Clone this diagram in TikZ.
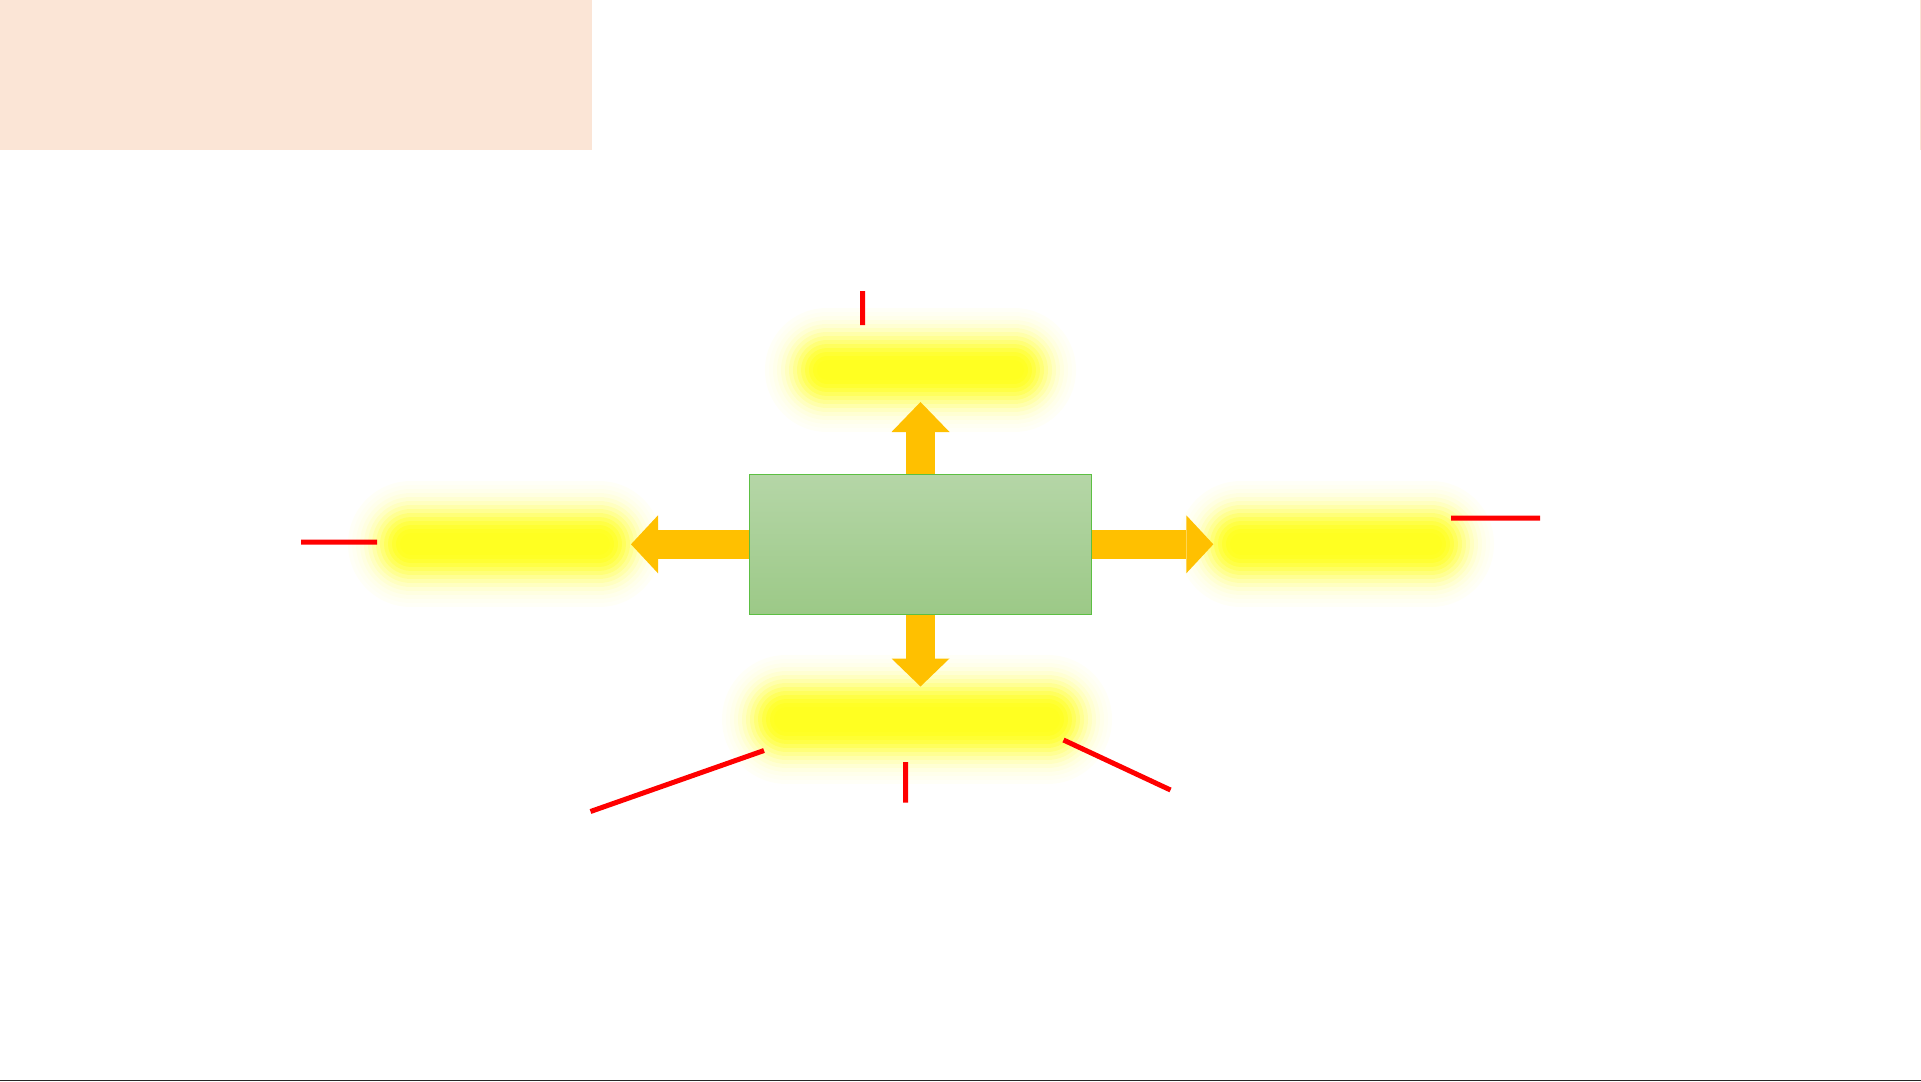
\documentclass[tikz,border=0pt]{standalone}
\usetikzlibrary{arrows.meta}
\definecolor{peach}{HTML}{FBE5D6}
\definecolor{boxtop}{HTML}{B5D6A7}
\definecolor{boxbot}{HTML}{9CC987}
\definecolor{boxline}{HTML}{5CBF43}
\definecolor{arrowgold}{HTML}{FFC000}
\definecolor{glowyellow}{HTML}{FFFF00}
\definecolor{coreyellow}{HTML}{FFFF21}
\begin{document}
\begin{tikzpicture}[x=0.5pt,y=-0.5pt,
	hub/.style={draw=boxline,line width=0.75pt,top color=boxtop,bottom color=boxbot,minimum width=171pt,minimum height=70pt,inner sep=0pt},
	spot/.style={inner sep=0pt,outer sep=0pt},
	glowline/.style={glowyellow,line cap=round},
	blockarrow/.style={arrowgold,line width=14.5pt,-{Triangle[length=#1,width=29pt,line width=0pt]}},
	blockarrow/.default=13.5pt,
	redmark/.style={red,line width=2.5pt}]
	\useasboundingbox (0,0) rectangle (1921,1081);
	\fill[peach] (0,0) rectangle (592,149.5);
	\fill[peach] (1919.5,0) rectangle (1921,149.5);
	\fill[black!85] (0,1080) rectangle (1921,1081);
	% glowing spots
	\foreach \n/\x/\y/\w/\h in {top/920.5/370/207/20, left/505/544/210/22, right/1336/544/212/22, bottom/917/719/286/25}{
		\foreach \k/\a in {13/0.03,12/0.02,11/0.029,10/0.044,9/0.061,8/0.085,7/0.112,6/0.143,5/0.182,4/0.22,3/0.258,2/0.278,1/0.254}
			\draw[glowline,opacity=\a,line width={(\h+8*\k)*0.5pt}] (\x-\w/2+\h/2,\y) -- (\x+\w/2-\h/2,\y);
		\draw[coreyellow,line cap=round,line width=\h*0.5pt] (\x-\w/2+\h/2,\y) -- (\x+\w/2-\h/2,\y);
		\node[spot,minimum width=\w*0.5pt,minimum height=\h*0.5pt] (\n) at (\x,\y) {};
	}
	\node[hub] (hub) at (920.5,544.3) {};
	\draw[blockarrow=15pt,shorten >=11pt] (hub.north) -- (hub.north |- top.south);
	\draw[blockarrow=14pt,shorten >=10pt] (hub.south) -- (hub.south |- bottom.north);
	\draw[blockarrow,shorten >=10.5pt] (hub.west) -- (hub.west -| left.east);
	\draw[blockarrow,shorten >=8.35pt] (hub.east) -- (hub.east -| right.west);
	\draw[redmark] (862.5,291) -- (862.5,325) (301,542) -- (377,542) (1451,518) -- (1540,518)
		(590.5,811.5) -- (764,750.5) (905.5,762) -- (905.5,802.5) (1063.5,740) -- (1170.5,790);
\end{tikzpicture}
\end{document}
